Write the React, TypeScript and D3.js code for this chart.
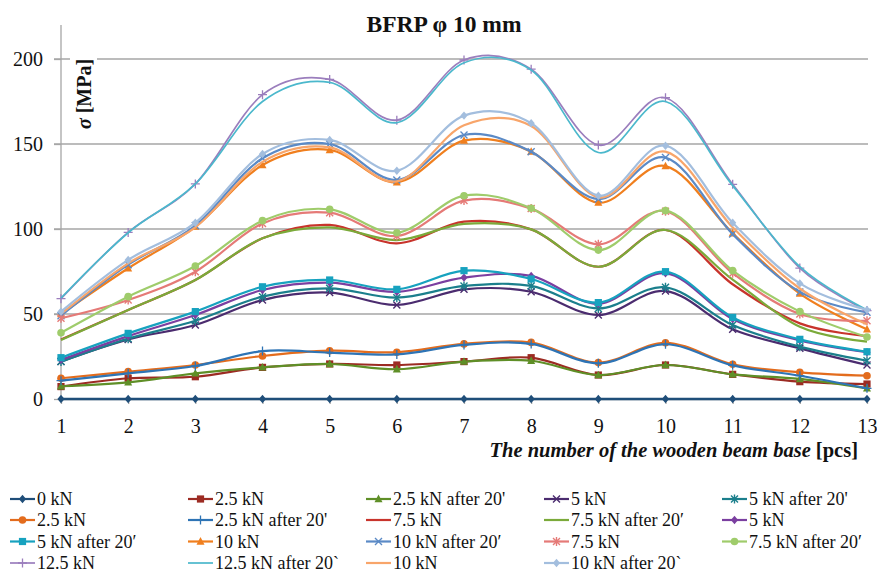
import React, { useEffect, useRef } from 'react';
import * as d3 from 'd3';

// beam base number (x categories)
const beamBase = [1, 2, 3, 4, 5, 6, 7, 8, 9, 10, 11, 12, 13];
const yTicks = [0, 50, 100, 150, 200];

// stress values [MPa]
const s0kN = [0, 0, 0, 0, 0, 0, 0, 0, 0, 0, 0, 0, 0];
const s25kNsq = [7.3, 12.2, 13.1, 18.6, 20.6, 20, 22, 24.3, 14.1, 20, 14.5, 10.2, 8.8];
const s25kNa20tri = [7.5, 9.8, 15.1, 18.6, 20.6, 17.5, 22, 22.5, 14.1, 20, 14.5, 11.8, 6.3];
const s5kNx = [22, 35, 43.5, 58.2, 62.6, 55.3, 64.5, 63.1, 49.4, 63.5, 41, 29.8, 20];
const s5kNa20star = [22, 35.5, 46, 60.2, 65.1, 59.6, 66.5, 66.5, 53.3, 65.7, 43.5, 30.8, 22.5];
const s25kNcirc = [12.2, 16.1, 20, 25.3, 28.4, 27.5, 32.4, 33.3, 21.4, 33.1, 20.4, 15.7, 13.7];
const s25kNa20plus = [10.8, 15.1, 19.4, 28.2, 27.3, 26.2, 31.8, 32.4, 21, 32.2, 19.8, 13.7, 6.3];
const s75kNline = [35, 52.4, 70, 94.5, 102.4, 91.6, 104.3, 99.8, 77.8, 99.4, 67.5, 44.5, 37];
const s75kNa20line = [34.7, 52.4, 70, 94.5, 101, 93.5, 103, 99.8, 77.8, 99.4, 70.2, 42.5, 33.7];
const s5kNdia = [23, 37, 49.4, 64.1, 68.4, 63, 71.4, 72.4, 56, 74, 47, 34.5, 27.5];
const s5kNa20sq = [24.3, 38.6, 51.4, 66, 70, 64.5, 75.5, 70.6, 56.7, 74.9, 48, 35.1, 27.8];
const s10kNtri = [50, 76.9, 101.4, 137.6, 146.5, 127.5, 152, 145.5, 115.5, 137, 97.5, 62, 41];
const s10kNa20x = [49, 79, 102, 141.6, 150, 128.8, 155.3, 145.5, 117.6, 142, 97, 63, 51];
const s75kNstar = [47.5, 58.2, 74.9, 103.3, 109.6, 95.9, 116.7, 112, 91, 110.5, 74, 50, 46];
const s75kNa20circ = [39, 60.2, 78.2, 104.9, 111.6, 97.8, 119.6, 112.2, 87.6, 110.8, 75.5, 51.4, 36.5];
const s125kNplus = [59, 98, 126.5, 179, 188, 164, 199.4, 194, 149.4, 177.2, 126.3, 77, 52];
const s125kNa20line = [59.4, 97.8, 126.5, 175, 186.3, 162.5, 197.8, 193.5, 145, 175, 125.5, 77.8, 52.4];
const s10kNline = [50, 79.8, 101, 139.5, 148, 128, 161, 160.6, 118.6, 145.5, 101, 65, 44];
const s10kNa20dia = [51.4, 81.8, 103.7, 144.1, 152.4, 134.3, 166.7, 162.2, 119.6, 149, 103.7, 68, 52.4];

const seriesNames = [
  '0 kN', '2.5 kN', "2.5 kN after 20'", '5 kN', "5 kN after 20'",
  '2.5 kN', "2.5 kN after 20'", '7.5 kN', '7.5 kN after 20′', '5 kN',
  '5 kN after 20′', '10 kN', '10 kN after 20′', '7.5 kN', '7.5 kN after 20′',
  '12.5 kN', '12.5 kN after 20`', '10 kN', '10 kN after 20`',
];
const seriesValues = [
  s0kN, s25kNsq, s25kNa20tri, s5kNx, s5kNa20star,
  s25kNcirc, s25kNa20plus, s75kNline, s75kNa20line, s5kNdia,
  s5kNa20sq, s10kNtri, s10kNa20x, s75kNstar, s75kNa20circ,
  s125kNplus, s125kNa20line, s10kNline, s10kNa20dia,
];
const seriesColors = [
  '#1F4E79', '#9C2B23', '#5F8F27', '#4B2C6F', '#1B7F8C',
  '#E36C1D', '#2E74B5', '#C8342C', '#7BAA3A', '#7B3FA0',
  '#17A2BF', '#F07F1E', '#5B8AC6', '#E57A77', '#9FCC6B',
  '#9B7EBD', '#4BB8CC', '#F8A56A', '#A3BEDE',
];
const seriesMarkers = [
  'diamond', 'square', 'triangle', 'x', 'star',
  'circle', 'plus', 'none', 'none', 'diamond',
  'square', 'triangle', 'x', 'star', 'circle',
  'plus', 'none', 'none', 'diamond',
];

const FONT = '"Liberation Serif", "Times New Roman", serif';

function drawMarker(g, type, color, cx, cy) {
  if (type === 'none') return;
  if (type === 'diamond') {
    g.append('path').attr('d', `M${cx},${cy - 4.2}L${cx + 3.6},${cy}L${cx},${cy + 4.2}L${cx - 3.6},${cy}Z`).attr('fill', color);
  } else if (type === 'square') {
    g.append('rect').attr('x', cx - 3.6).attr('y', cy - 3.6).attr('width', 7.2).attr('height', 7.2).attr('fill', color);
  } else if (type === 'triangle') {
    g.append('path').attr('d', `M${cx},${cy - 4.4}L${cx + 4},${cy + 3.2}L${cx - 4},${cy + 3.2}Z`).attr('fill', color);
  } else if (type === 'circle') {
    g.append('circle').attr('cx', cx).attr('cy', cy).attr('r', 3.8).attr('fill', color);
  } else if (type === 'x') {
    g.append('path').attr('d', `M${cx - 3.5},${cy - 3.5}L${cx + 3.5},${cy + 3.5}M${cx - 3.5},${cy + 3.5}L${cx + 3.5},${cy - 3.5}`)
      .attr('stroke', color).attr('stroke-width', 1.4);
  } else if (type === 'star') {
    g.append('path').attr('d', `M${cx - 3.5},${cy - 3.5}L${cx + 3.5},${cy + 3.5}M${cx - 3.5},${cy + 3.5}L${cx + 3.5},${cy - 3.5}M${cx},${cy - 4.5}L${cx},${cy + 4.5}`)
      .attr('stroke', color).attr('stroke-width', 1.4);
  } else if (type === 'plus') {
    g.append('path').attr('d', `M${cx - 4.5},${cy}L${cx + 4.5},${cy}M${cx},${cy - 4.5}L${cx},${cy + 4.5}`)
      .attr('stroke', color).attr('stroke-width', 1.3);
  }
}

const App = () => {
  const svgRef = useRef();

  useEffect(() => {
    const width = 877;
    const height = 573;

    d3.select(svgRef.current).selectAll('*').remove();
    const svg = d3.select(svgRef.current).attr('width', width).attr('height', height);

    const x = d3.scaleLinear().domain([1, 13]).range([61, 867]);
    const y = d3.scaleLinear().domain([0, 200]).range([399, 59]);

    // gridlines
    svg.append('g')
      .selectAll('line')
      .data(yTicks.filter(d => d > 0))
      .enter()
      .append('line')
      .attr('x1', 54).attr('x2', 868)
      .attr('y1', d => y(d)).attr('y2', d => y(d))
      .attr('stroke', '#A6A6A6').attr('stroke-width', 1.3);

    // y axis
    const yAxis = d3.axisLeft(y).tickValues(yTicks).tickSize(7).tickSizeOuter(0).tickPadding(11);
    const gy = svg.append('g').attr('transform', 'translate(61,0)').call(yAxis);
    gy.select('.domain').remove();
    gy.append('line').attr('x1', 0).attr('x2', 0).attr('y1', 25).attr('y2', 399).attr('stroke', '#A6A6A6').attr('stroke-width', 1.3);
    gy.selectAll('.tick line').attr('stroke', '#A6A6A6').attr('stroke-width', 1.3);
    gy.selectAll('.tick text').attr('font-family', FONT).attr('font-size', 20).attr('fill', '#111');

    // x axis
    const xAxis = d3.axisBottom(x).tickValues(beamBase).tickFormat(d3.format('d')).tickSize(5).tickSizeOuter(0).tickPadding(15);
    const gx = svg.append('g').attr('transform', `translate(0,${y(0)})`).call(xAxis);
    gx.select('.domain').attr('stroke', '#A6A6A6').attr('stroke-width', 1.3);
    gx.selectAll('.tick line').attr('stroke', '#A6A6A6').attr('stroke-width', 1.3);
    gx.selectAll('.tick text').attr('font-family', FONT).attr('font-size', 20).attr('fill', '#111');

    // y axis title with white backing over the gridline
    svg.append('rect').attr('x', 70).attr('y', 55).attr('width', 27).attr('height', 80).attr('fill', '#fff');
    const yt = svg.append('text')
      .attr('transform', 'translate(91,94) rotate(-90)')
      .attr('text-anchor', 'middle')
      .attr('font-family', FONT).attr('font-size', 20).attr('font-weight', 'bold').attr('fill', '#111');
    yt.append('tspan').attr('font-style', 'italic').text('σ');
    yt.append('tspan').text(' [MPa]');

    // title
    svg.append('text')
      .attr('x', 444).attr('y', 32)
      .attr('text-anchor', 'middle')
      .attr('font-family', FONT).attr('font-size', 23.5).attr('font-weight', 'bold').attr('fill', '#111')
      .text('BFRP φ 10 mm');

    // x axis title
    const xt = svg.append('text')
      .attr('x', 858).attr('y', 457)
      .attr('text-anchor', 'end')
      .attr('font-family', FONT).attr('font-size', 20.5).attr('font-weight', 'bold').attr('fill', '#111');
    xt.append('tspan').attr('font-style', 'italic').text('The number of the wooden beam base');
    xt.append('tspan').text(' [pcs]');

    // series
    const line = d3.line()
      .x((d, i) => x(beamBase[i]))
      .y(d => y(d))
      .curve(d3.curveCardinal.tension(0));

    seriesValues.forEach((vals, si) => {
      const color = seriesColors[si];
      const g = svg.append('g');
      const lw = si === 0 ? 2.6 : (si === 15 || si === 16 ? 1.7 : 2.2);
      g.append('path')
        .datum(vals)
        .attr('d', line)
        .attr('fill', 'none')
        .attr('stroke', color)
        .attr('stroke-width', lw);
      vals.forEach((v, i) => drawMarker(g, seriesMarkers[si], color, x(beamBase[i]), y(v)));
    });

    // legend
    const colX = [10, 188, 366, 544, 722];
    const rowY = [499, 520, 541.5, 563];
    const lg = svg.append('g');
    seriesNames.forEach((name, i) => {
      const cx = colX[i % 5];
      const cy = rowY[Math.floor(i / 5)];
      const color = seriesColors[i];
      lg.append('line')
        .attr('x1', cx).attr('x2', cx + 25)
        .attr('y1', cy).attr('y2', cy)
        .attr('stroke', color).attr('stroke-width', i === 15 || i === 16 ? 1.7 : 2.2);
      drawMarker(lg, seriesMarkers[i], color, cx + 12.5, cy);
      lg.append('text')
        .attr('x', cx + 27).attr('y', cy + 6)
        .attr('font-family', FONT).attr('font-size', 18).attr('fill', '#111')
        .text(name);
    });
  }, []);

  return (
    <div style={{ position: 'absolute', left: 0, top: 0 }}>
      <svg ref={svgRef} style={{ display: 'block' }}></svg>
    </div>
  );
};

export default App;
